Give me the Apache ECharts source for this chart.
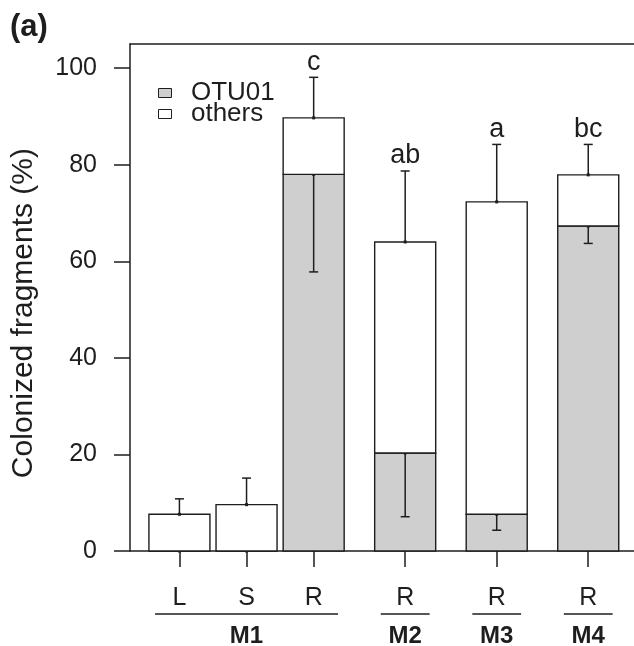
<!DOCTYPE html>
<html>
<head>
<meta charset="utf-8">
<script src="https://cdn.jsdelivr.net/npm/echarts@6/dist/echarts.min.js"></script>
<style>
  html, body { margin: 0; padding: 0; background: #fff; }
  #main { width: 634px; height: 646px; }
</style>
</head>
<body>
<div id="main"></div>
<script>
// data
var categories = ['L', 'S', 'R', 'R', 'R', 'R'];
var groups = ['M1', 'M1', 'M1', 'M2', 'M3', 'M4'];
var positions = [0, 1.1, 2.2, 3.7, 5.2, 6.7];
var otu01 = [0, 0, 78.0, 20.3, 7.6, 67.3];
var otu01Low = [0, 0, 57.8, 7.1, 4.3, 63.7];
var others = [7.6, 9.6, 11.7, 43.7, 64.7, 10.6];
var totalHigh = [10.8, 15.1, 98.1, 78.7, 84.2, 84.2];
var letters = ['', '', 'c', 'ab', 'a', 'bc'];
var yTicks = [0, 20, 40, 60, 80, 100];

var FONT = "'Liberation Sans', Arial, Helvetica, sans-serif";
var INK = '#1e1e1e';
var GREY = '#cfcfcf';

var otuData = positions.map(function (p, i) { return [p, otu01[i], otu01Low[i]]; });
var othersData = positions.map(function (p, i) {
  return [p, otu01[i], otu01[i] + others[i], totalHigh[i], i];
});

// group spans for the M1..M4 labels
var groupData = [];
groups.forEach(function (g, i) {
  var last = groupData[groupData.length - 1];
  if (last && last[2] === g) { last[1] = positions[i]; }
  else { groupData.push([positions[i], positions[i], g]); }
});

function errBar(api, x, from, to, style) {
  var a = api.coord([x, from]);
  var b = api.coord([x, to]);
  var els = [];
  if (Math.abs(b[1] - a[1]) > 0.5) {
    els.push({ type: 'line', shape: { x1: a[0], y1: a[1], x2: b[0], y2: b[1] }, style: style });
    els.push({ type: 'line', shape: { x1: b[0] - 4.5, y1: b[1], x2: b[0] + 4.5, y2: b[1] }, style: style });
  }
  els.push({ type: 'rect', shape: { x: a[0] - 1.5, y: a[1] - 1.5, width: 3, height: 3 }, style: { fill: INK } });
  return els;
}

function renderOtu(params, api) {
  var x = api.value(0), v = api.value(1), lo = api.value(2);
  var w = api.size([1, 0])[0];
  var p0 = api.coord([x, 0]), p1 = api.coord([x, v]);
  var children = [{
    type: 'rect',
    shape: { x: p0[0] - w / 2, y: p1[1], width: w, height: p0[1] - p1[1] },
    style: { fill: GREY, stroke: INK, lineWidth: 1.4 }
  }];
  children = children.concat(errBar(api, x, v, lo, { stroke: INK, lineWidth: 1.5 }));
  return { type: 'group', children: children };
}

function renderOthers(params, api) {
  var x = api.value(0), b = api.value(1), t = api.value(2), hi = api.value(3);
  var w = api.size([1, 0])[0];
  var p0 = api.coord([x, b]), p1 = api.coord([x, t]);
  var children = [{
    type: 'rect',
    shape: { x: p0[0] - w / 2, y: p1[1], width: w, height: p0[1] - p1[1] },
    style: { fill: '#fff', stroke: INK, lineWidth: 1.4 }
  }];
  children = children.concat(errBar(api, x, t, hi, { stroke: INK, lineWidth: 1.5 }));
  var letter = letters[api.value(4)];
  if (letter) {
    var ph = api.coord([x, hi]);
    children.push({
      type: 'text',
      style: { text: letter, x: ph[0], y: ph[1] - 15, align: 'center', verticalAlign: 'middle',
        fill: INK, font: '27px ' + FONT }
    });
  }
  return { type: 'group', children: children };
}

function renderGroup(params, api) {
  var a = api.coord([api.value(0) - 0.4, 0]);
  var b = api.coord([api.value(1) + 0.4, 0]);
  var name = groupData[params.dataIndex][2];
  return {
    type: 'group',
    children: [
      { type: 'line', shape: { x1: a[0], y1: a[1] + 63, x2: b[0], y2: b[1] + 63 },
        style: { stroke: INK, lineWidth: 1.5 } },
      { type: 'text', style: { text: name, x: (a[0] + b[0]) / 2, y: a[1] + 85,
        align: 'center', verticalAlign: 'middle', fill: INK, font: 'bold 24px ' + FONT } }
    ]
  };
}

var myChart = echarts.init(document.getElementById('main'));
var option = {
  animation: false,
  textStyle: { fontFamily: FONT },
  title: {
    text: '(a)', left: 10, top: 12, padding: 0,
    textStyle: { fontSize: 31, fontWeight: 'bold', color: INK, fontFamily: FONT }
  },
  graphic: [{
    type: 'text', left: 9, top: 148, rotation: Math.PI / 2,
    style: { text: 'Colonized fragments (%)', fill: INK, font: '30px ' + FONT }
  }],
  legend: {
    orient: 'vertical', left: 158, top: 80, itemGap: -5, padding: 0,
    itemWidth: 13, itemHeight: 9, icon: 'rect',
    formatter: function (n) { return '  ' + n; },
    textStyle: { fontSize: 26, color: INK, fontFamily: FONT },
    data: [
      { name: 'OTU01', itemStyle: { color: GREY, borderColor: INK, borderWidth: 1 } },
      { name: 'others', itemStyle: { color: '#fff', borderColor: INK, borderWidth: 1 } }
    ]
  },
  grid: { left: 130, right: 0, top: 44, bottom: 95, containLabel: false },
  xAxis: [{
    type: 'value', min: -0.81, max: 7.45,
    splitLine: { show: false },
    axisLine: { show: true, onZero: false, lineStyle: { color: INK, width: 1.5 } },
    axisTick: { show: true, customValues: positions, length: 16, lineStyle: { color: INK, width: 1.5 } },
    axisLabel: {
      show: true, customValues: positions, margin: 35, fontSize: 25, color: INK, fontFamily: FONT,
      formatter: function (v) {
        for (var i = 0; i < positions.length; i++) {
          if (Math.abs(positions[i] - v) < 1e-6) return categories[i];
        }
        return '';
      }
    }
  }, {
    type: 'value', position: 'top', min: -0.81, max: 7.45,
    splitLine: { show: false },
    axisLine: { show: true, onZero: false, lineStyle: { color: INK, width: 1.5 } },
    axisTick: { show: false }, axisLabel: { show: false }
  }],
  yAxis: {
    type: 'value', min: 0, max: 105,
    splitLine: { show: false },
    axisLine: { show: true, onZero: false, lineStyle: { color: INK, width: 1.5 } },
    axisTick: { show: true, customValues: yTicks, length: 16, lineStyle: { color: INK, width: 1.5 } },
    axisLabel: { show: true, customValues: yTicks, margin: 33, fontSize: 25, color: INK, fontFamily: FONT }
  },
  series: [
    { name: 'OTU01', type: 'custom', renderItem: renderOtu, data: otuData,
      itemStyle: { color: GREY }, encode: { x: 0, y: [1, 2] }, silent: true },
    { name: 'others', type: 'custom', renderItem: renderOthers, data: othersData,
      itemStyle: { color: '#fff' }, encode: { x: 0, y: [1, 2, 3] }, silent: true },
    { name: 'groups', type: 'custom', renderItem: renderGroup, data: groupData.map(function (g) { return [g[0], g[1]]; }),
      encode: { x: [0, 1] }, silent: true, clip: false }
  ]
};
myChart.setOption(option);

window.onresize = function () {
  myChart.resize();
};
</script>
</body>
</html>
